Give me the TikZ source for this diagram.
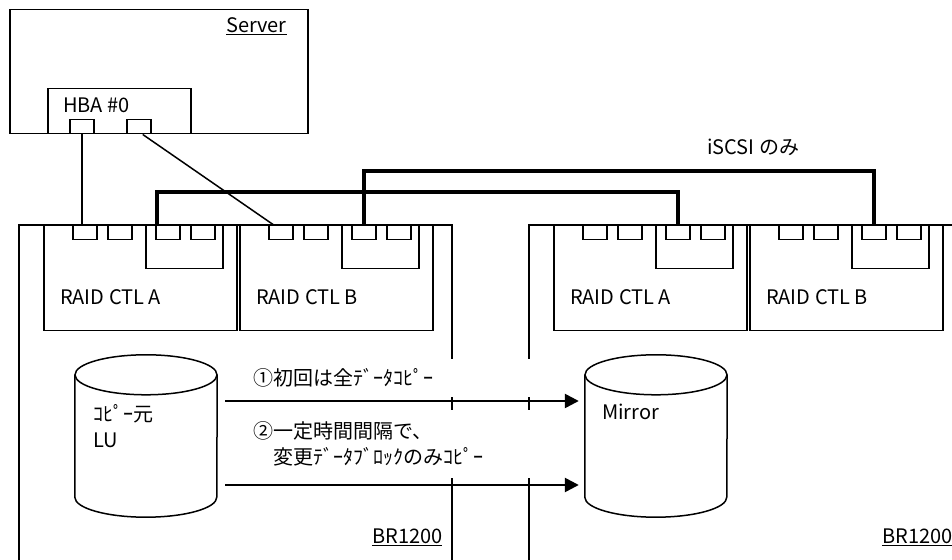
\documentclass[tikz,border=0pt]{standalone}
\usepackage{fontspec}
\setmainfont{Noto Sans CJK JP}
\usetikzlibrary{arrows.meta}
\begin{document}
\begin{tikzpicture}[
            x=1bp, y=1bp,
            every node/.style={font=\fontsize{20bp}{26bp}\selectfont},
            % Estilos de cajas y puertos
            box/.style={rectangle, draw, line width=1.5bp, anchor=north west, inner sep=0pt},
            ctl/.style={box, minimum width=193bp, minimum height=105bp},
            card/.style={box, minimum width=77bp, minimum height=43bp},
            port/.style={box, fill=white, minimum width=24bp, minimum height=14bp},
            disk/.style={rectangle, minimum width=142bp, minimum height=162bp, inner sep=0pt},
            diskline/.style={line width=1.5bp},
            txt/.style={inner sep=0pt, anchor=west, align=left},
            lbl/.style={fill=white, anchor=west, align=left, text width=280bp, inner xsep=8bp, inner ysep=0pt},
            cable/.style={line width=1.5bp},
            iscsi/.style={line width=4bp},
            arrow/.style={line width=2.5bp, -{Triangle[length=14bp, width=14bp]}}
        ]
            \useasboundingbox (0,0) rectangle (952,560);

            % Servidor con la HBA
            \node (server) [box, minimum width=298bp, minimum height=124bp] at (9,551) {};
            \node (srvname) [txt] at (226,534) {\underline{Server}};
            \node (hba) [box, minimum width=143bp, minimum height=45bp] at (47,472) {};
            \node (hbaname) [txt] at (63,455) {HBA \#0};
            \node (hba1) [port] at (69,441) {};
            \node (hba2) [port] at (126,441) {};

            % Chasis de los dos BR1200
            \draw [cable] (19,-5) |- (452,335) -- (452,-5);
            \draw [cable] (529,-5) |- (962,335) -- (962,-5);
            \node (brleft) [txt] at (372,23) {\underline{BR1200}};
            \node (brright) [txt] at (882,23) {\underline{BR1200}};

            % Controladoras RAID con sus puertos
            \foreach \cx/\nm/\lt in {43/la/A, 239/lb/B, 553/ra/A, 749/rb/B} {
                \node (\nm) [ctl] at (\cx,335) {};
                \node (name\nm) [txt] at (\cx+17,263) {RAID CTL \lt};
                \node (p1\nm) [port] at (\cx+29,335) {};
                \node (p2\nm) [port] at (\cx+64,335) {};
                \node (card\nm) [card] at (\cx+102,335) {};
                \node (s1\nm) [port] at (\cx+112,335) {};
                \node (s2\nm) [port] at (\cx+147,335) {};
            }

            % Volumenes (cilindros)
            \node (lu) [disk] at (146,124) {};
            \node (mirror) [disk] at (656,124) {};
            \foreach \d in {lu, mirror} {
                \draw [diskline] ([yshift=-20bp]\d.north) ellipse [x radius=71bp, y radius=20bp];
                \draw [diskline] ([yshift=-20bp]\d.north west) -- ([yshift=20bp]\d.south west)
                    arc [start angle=180, end angle=360, x radius=71bp, y radius=20bp]
                    -- ([yshift=-20bp]\d.north east);
            }
            \node (luname) [txt] at (93,134) {ｺﾋﾟｰ元\\LU};
            \node (mirname) [txt] at (602,148) {Mirror};

            % Textos de la copia
            \node (step1) [lbl, minimum height=38bp] at (245,182) {①初回は全ﾃﾞｰﾀｺﾋﾟｰ};
            \node (step2) [lbl, minimum height=68bp] at (245,116) {②一定時間間隔で、\\　変更ﾃﾞｰﾀﾌﾞﾛｯｸのみｺﾋﾟｰ};

            % Flechas de copia
            \draw [arrow] ([shift={(8bp,35bp)}]lu.east) -- ([shift={(-6bp,35bp)}]mirror.west);
            \draw [arrow] ([shift={(8bp,-49bp)}]lu.east) -- ([shift={(-6bp,-49bp)}]mirror.west);

            % Cables de la HBA
            \draw [cable] (hba1.south) -- (hba1.south |- p1la.north);
            \draw [cable] ([xshift=4bp]hba2.south) -- ([xshift=-7bp]p1lb.north);

            % Enlaces iSCSI entre controladoras
            \draw [iscsi] ([xshift=2bp]s1la.north west) -- ++(0,33) -| (s1ra.north);
            \draw [iscsi] (s1lb.north) -- ++(0,54) -| (s1rb.north);
            \node (iscsiname) [txt] at (707,413) {iSCSI のみ};

        \end{tikzpicture}
\end{document}
